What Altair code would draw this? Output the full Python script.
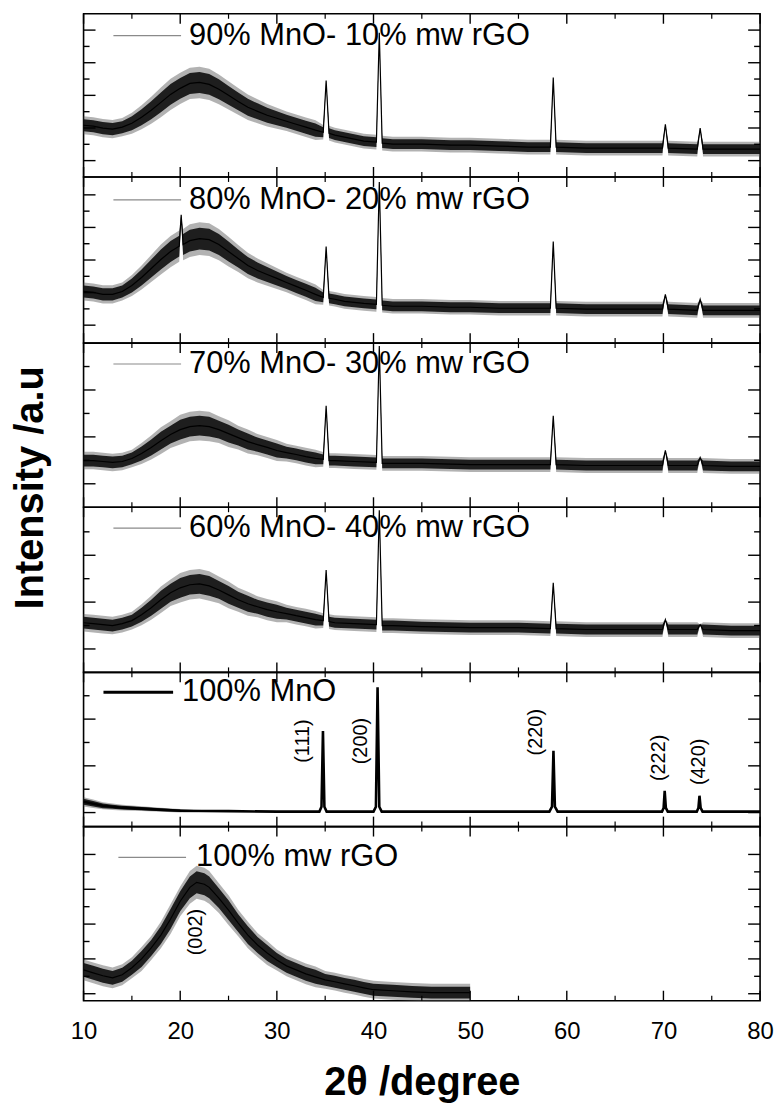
import altair as alt
import pandas as pd

FONT = "Liberation Sans"

# ---------------- data ----------------
NAMES = ["90% MnO- 10% mw rGO", "80% MnO- 20% mw rGO", "70% MnO- 30% mw rGO",
         "60% MnO- 40% mw rGO", "100% MnO", "100% mw rGO"]

X_MAJOR = [10, 20, 30, 40, 50, 60, 70, 80]
X_MINOR = [15, 25, 35, 45, 55, 65, 75]

# panel 1 : 90% MnO - 10% mw rGO
P1_TT = [10, 11, 12, 13, 14, 15, 16, 17, 18, 19, 20, 21, 22, 23, 24, 25, 26, 27, 28, 29, 30,
         31, 32, 33, 34, 34.8, 35.1, 35.4, 36, 37, 38, 39, 40.3, 40.6, 40.9, 42, 45, 48, 50,
         53, 56, 58.3, 58.6, 58.9, 62, 66, 69.9, 70.2, 70.5, 73.5, 73.8, 74.1, 77, 80]
P1_V = [3.17, 3.11, 2.99, 2.93, 3.05, 3.29, 3.66, 4.09, 4.57, 5.06, 5.43, 5.73, 5.79, 5.67,
        5.37, 5.00, 4.63, 4.27, 4.02, 3.78, 3.60, 3.41, 3.23, 3.05, 2.87, 2.74, 5.91, 2.68,
        2.56, 2.44, 2.32, 2.20, 2.13, 8.84, 2.07, 2.01, 2.01, 1.95, 1.95, 1.89, 1.83, 1.83,
        6.10, 1.83, 1.77, 1.77, 1.77, 3.23, 1.77, 1.71, 2.99, 1.71, 1.71, 1.71]
P1_HW = [0.37, 0.37, 0.37, 0.37, 0.37, 0.43, 0.49, 0.55, 0.61, 0.64, 0.64, 0.64, 0.64, 0.64,
         0.61, 0.58, 0.55, 0.52, 0.49, 0.46, 0.43, 0.40, 0.40, 0.40, 0.40, 0.30, 0.0, 0.30,
         0.30, 0.30, 0.30, 0.30, 0.30, 0.0, 0.30, 0.30, 0.30, 0.30, 0.30, 0.30, 0.30, 0.30,
         0.0, 0.30, 0.30, 0.30, 0.30, 0.0, 0.30, 0.30, 0.0, 0.30, 0.30, 0.30]

# panel 2 : 80% MnO - 20% mw rGO
P2_TT = [10, 11, 12, 13, 14, 15, 16, 17, 18, 19, 19.9, 20.1, 20.3, 21, 22, 23, 24, 25, 26,
         27, 28, 29, 30, 31, 32, 33, 34, 34.8, 35.1, 35.4, 36, 37, 38, 39, 40.3, 40.6, 40.9,
         42, 45, 48, 50, 53, 56, 58.3, 58.6, 58.9, 62, 66, 69.9, 70.2, 70.5, 73.5, 73.8,
         74.1, 77, 80]
P2_V = [3.07, 3.01, 2.89, 2.89, 3.07, 3.44, 3.93, 4.48, 5.03, 5.52, 5.85, 7.78, 5.95, 6.19,
        6.31, 6.25, 5.95, 5.52, 5.09, 4.66, 4.36, 4.11, 3.87, 3.62, 3.38, 3.14, 2.89, 2.71,
        5.82, 2.65, 2.59, 2.46, 2.40, 2.34, 2.28, 9.79, 2.22, 2.16, 2.16, 2.10, 2.10, 2.04,
        2.04, 2.04, 6.13, 2.04, 1.98, 1.98, 1.98, 2.89, 1.98, 1.91, 2.59, 1.91, 1.91, 1.91]
P2_HW = [0.37, 0.37, 0.37, 0.37, 0.37, 0.43, 0.49, 0.55, 0.61, 0.64, 0.64, 0.0, 0.64, 0.67,
         0.67, 0.67, 0.64, 0.61, 0.55, 0.52, 0.49, 0.46, 0.43, 0.40, 0.40, 0.40, 0.40, 0.30,
         0.0, 0.30, 0.30, 0.30, 0.30, 0.30, 0.30, 0.0, 0.30, 0.30, 0.30, 0.30, 0.30, 0.30,
         0.30, 0.30, 0.0, 0.30, 0.30, 0.30, 0.30, 0.0, 0.30, 0.30, 0.0, 0.30, 0.30, 0.30]

# panel 3 : 70% MnO - 30% mw rGO
P3_TT = [10, 11, 12, 13, 14, 15, 16, 17, 18, 19, 20, 21, 22, 23, 24, 25, 26, 27, 28, 29, 30,
         31, 32, 33, 34, 34.8, 35.1, 35.4, 36, 38, 40.3, 40.6, 40.9, 42, 45, 50, 55, 58.3,
         58.6, 58.9, 62, 66, 69.9, 70.2, 70.5, 73.5, 73.8, 74.1, 77, 80]
P3_V = [1.99, 1.99, 1.95, 1.91, 1.95, 2.08, 2.29, 2.55, 2.84, 3.10, 3.31, 3.44, 3.48, 3.44,
        3.31, 3.14, 2.97, 2.80, 2.67, 2.55, 2.42, 2.33, 2.25, 2.16, 2.08, 2.04, 4.33, 1.99,
        1.99, 1.95, 1.91, 6.87, 1.87, 1.87, 1.87, 1.82, 1.82, 1.82, 3.90, 1.82, 1.78, 1.78,
        1.78, 2.42, 1.78, 1.78, 2.12, 1.78, 1.74, 1.74]
P3_HW = [0.25, 0.25, 0.25, 0.25, 0.25, 0.25, 0.30, 0.34, 0.38, 0.38, 0.42, 0.42, 0.42, 0.42,
         0.38, 0.38, 0.34, 0.34, 0.30, 0.30, 0.30, 0.25, 0.25, 0.25, 0.25, 0.21, 0.0, 0.21,
         0.21, 0.21, 0.21, 0.0, 0.21, 0.21, 0.21, 0.21, 0.21, 0.21, 0.0, 0.21, 0.21, 0.21,
         0.21, 0.0, 0.21, 0.21, 0.0, 0.21, 0.21, 0.21]

# panel 4 : 60% MnO - 40% mw rGO
P4_TT = [10, 11, 12, 13, 14, 15, 16, 17, 18, 19, 20, 21, 22, 23, 24, 25, 26, 27, 28, 29, 30,
         31, 32, 33, 34, 34.8, 35.1, 35.4, 36, 38, 40.3, 40.6, 40.9, 42, 45, 50, 55, 58.3,
         58.6, 58.9, 62, 66, 69.9, 70.2, 70.5, 73.5, 73.8, 74.1, 77, 80]
P4_V = [2.12, 2.08, 2.04, 2.00, 2.08, 2.21, 2.46, 2.76, 3.10, 3.40, 3.61, 3.74, 3.78, 3.69,
        3.52, 3.31, 3.10, 2.93, 2.80, 2.68, 2.59, 2.51, 2.42, 2.34, 2.25, 2.21, 4.37, 2.17,
        2.12, 2.08, 2.04, 6.92, 2.00, 2.00, 1.95, 1.91, 1.91, 1.87, 3.82, 1.87, 1.83, 1.83,
        1.83, 2.25, 1.83, 1.83, 2.04, 1.83, 1.78, 1.78]
P4_HW = [0.25, 0.25, 0.25, 0.25, 0.25, 0.25, 0.30, 0.34, 0.38, 0.38, 0.42, 0.42, 0.42, 0.42,
         0.38, 0.38, 0.34, 0.34, 0.30, 0.30, 0.30, 0.25, 0.25, 0.25, 0.25, 0.21, 0.0, 0.21,
         0.21, 0.21, 0.21, 0.0, 0.21, 0.21, 0.21, 0.21, 0.21, 0.21, 0.0, 0.21, 0.21, 0.21,
         0.21, 0.0, 0.21, 0.21, 0.0, 0.21, 0.21, 0.21]

# panel 5 : 100% MnO
P5_TT = [10, 11, 12, 13, 14, 16, 18, 20, 25, 30, 34.4, 34.62, 34.77, 34.92, 35.15, 40.0,
         40.25, 40.42, 40.6, 40.85, 58.2, 58.47, 58.62, 58.77, 59.05, 69.85, 70.02, 70.13,
         70.25, 70.45, 73.45, 73.62, 73.73, 73.85, 74.05, 80]
P5_V = [1.46, 1.38, 1.29, 1.25, 1.21, 1.17, 1.12, 1.08, 1.06, 1.04, 1.04, 1.25, 4.49, 1.25,
        1.04, 1.04, 1.25, 6.36, 1.25, 1.04, 1.04, 1.25, 3.64, 1.25, 1.04, 1.04, 1.20, 1.93,
        1.20, 1.04, 1.04, 1.20, 1.72, 1.20, 1.04, 1.04]
P5_HW = [0.13, 0.12, 0.10, 0.09, 0.08, 0.07, 0.06, 0.05, 0.0, 0.0, 0.0, 0.0, 0.0, 0.0, 0.0,
         0.0, 0.0, 0.0, 0.0, 0.0, 0.0, 0.0, 0.0, 0.0, 0.0, 0.0, 0.0, 0.0, 0.0, 0.0, 0.0, 0.0,
         0.0, 0.0, 0.0, 0.0]
P5_LABELS = ["(111)", "(200)", "(220)", "(222)", "(420)"]
P5_LABEL_TT = [32.7, 38.7, 56.8, 69.5, 73.7]
P5_LABEL_V = [4.06, 4.06, 4.44, 3.34, 3.17]

# panel 6 : 100% mw rGO
P6_TT = [10, 11, 12, 13, 14, 15, 16, 17, 18, 19, 20, 21, 21.7, 22.5, 23, 24, 25, 26, 27, 28,
         29, 30, 31, 32, 33, 34, 35, 36, 37, 38, 39, 40, 42, 44, 46, 48, 50]
P6_V = [2.37, 2.20, 2.03, 1.91, 2.09, 2.49, 3.00, 3.63, 4.37, 5.29, 6.31, 7.11, 7.40, 7.29,
        7.11, 6.49, 5.80, 5.06, 4.37, 3.80, 3.34, 2.94, 2.60, 2.37, 2.14, 1.97, 1.80, 1.69,
        1.57, 1.46, 1.34, 1.23, 1.17, 1.11, 1.06, 1.06, 1.06]
P6_HW = [0.40, 0.40, 0.40, 0.40, 0.40, 0.40, 0.46, 0.46, 0.51, 0.57, 0.57, 0.63, 0.63, 0.63,
         0.63, 0.57, 0.57, 0.51, 0.51, 0.46, 0.46, 0.40, 0.40, 0.40, 0.40, 0.40, 0.34, 0.34,
         0.34, 0.34, 0.34, 0.34, 0.34, 0.34, 0.34, 0.34, 0.34]
P6_LABELS = ["(002)"]
P6_LABEL_TT = [21.6]
P6_LABEL_V = [4.54]

# per-panel intensity axis (arbitrary units) and its tick marks
Y_DOMAINS = [[0, 10], [-0.1, 10.1], [0, 7], [0, 7.05], [0.4, 7.0], [0.6, 10.6]]
Y_MAJOR = [[1, 3, 5, 7, 9], [1, 3, 5, 7, 9], [1, 3, 5], [1, 3, 5], [1, 3, 5], [1, 3, 5, 7, 9]]
Y_MINOR = [[2, 4, 6, 8], [2, 4, 6, 8], [2, 4, 6], [2, 4, 6], [2, 4, 6], [2, 4, 6, 8]]

# ---------------- layout ----------------
W = 680
PANEL_H = [164, 167, 165, 166, 155, 175]
XS = alt.Scale(domain=[10, 80], nice=False, zero=False)


def build(i, tt, v, hw, line_color, line_w, leg, labels=None, bottom=False, ytitle=False):
    h = PANEL_H[i]
    ys = alt.Scale(domain=Y_DOMAINS[i], nice=False, zero=False)
    if bottom:
        xax = alt.Axis(values=X_MAJOR, ticks=False, tickSize=0, domain=False, grid=False,
                       labelFont=FONT, labelFontSize=24, labelColor="black", labelPadding=19,
                       labelFlush=False, format="d",
                       title="2θ /degree", titleFont=FONT, titleFontSize=40,
                       titleFontWeight="bold", titleColor="black", titlePadding=19)
    else:
        xax = None
    if ytitle:
        yax = alt.Axis(title="Intensity /a.u", domain=False, ticks=False, labels=False,
                       grid=False, titleFont=FONT, titleFontSize=40, titleFontWeight="bold",
                       titleColor="black", titleAngle=270, titleAlign="center",
                       titleBaseline="middle", titleX=-53, titleY=145)
    else:
        yax = None

    def X(f):
        return alt.X(f, type="quantitative", scale=XS, axis=xax)

    def Y(f):
        return alt.Y(f, type="quantitative", scale=ys, axis=yax)

    df = pd.DataFrame({
        "tt": tt, "v": v,
        "lo": [a - b for a, b in zip(v, hw)],
        "hi": [a + b for a, b in zip(v, hw)],
        "lo2": [a - 1.5 * b for a, b in zip(v, hw)],
        "hi2": [a + 1.5 * b for a, b in zip(v, hw)],
    })
    fringe = alt.Chart(df).mark_area(color="#555555", opacity=0.45).encode(
        x=X("tt"), y=Y("lo2"), y2="hi2:Q")
    band = alt.Chart(df).mark_area(color="#111111", opacity=0.92).encode(
        x=X("tt"), y=Y("lo"), y2="hi:Q")
    line = alt.Chart(df).mark_line(strokeWidth=line_w, color=line_color).encode(
        x=X("tt"), y=Y("v"))
    layers = [fringe, band, line]

    # legend sample line + label
    lx0, lx1, ltx, lcy, lcol, lw = leg
    ldf = pd.DataFrame({"sample": [NAMES[i]]})
    layers.append(alt.Chart(ldf).mark_rule(color=lcol, strokeWidth=lw).encode(
        x=alt.value(lx0), x2=alt.value(lx1), y=alt.value(lcy)))
    layers.append(alt.Chart(ldf).mark_text(font=FONT, fontSize=31, color="black",
                                           align="left", baseline="middle").encode(
        x=alt.value(ltx), y=alt.value(lcy), text="sample:N"))

    for vals, ln, sw in [(X_MAJOR, 10, 1.4), (X_MINOR, 5, 1.2)]:
        tdf = pd.DataFrame({"t": vals})
        layers.append(alt.Chart(tdf).mark_rule(color="black", strokeWidth=sw).encode(
            x=X("t"), y=alt.value(h), y2=alt.value(h - ln)))
        layers.append(alt.Chart(tdf).mark_rule(color="black", strokeWidth=sw).encode(
            x=X("t"), y=alt.value(0), y2=alt.value(ln)))
    for vals, ln in [(Y_MAJOR[i], 12), (Y_MINOR[i], 6)]:
        tdf = pd.DataFrame({"t": vals})
        layers.append(alt.Chart(tdf).mark_rule(color="black", strokeWidth=1.4).encode(
            y=Y("t"), x=alt.value(0), x2=alt.value(ln)))
        layers.append(alt.Chart(tdf).mark_rule(color="black", strokeWidth=1.4).encode(
            y=Y("t"), x=alt.value(W), x2=alt.value(W - ln)))
    if labels is not None:
        pdf = pd.DataFrame({"tt": labels[1], "v": labels[2], "lab": labels[0]})
        layers.append(alt.Chart(pdf).mark_text(angle=270, font=FONT, fontSize=20,
                                               color="black", align="center",
                                               baseline="middle").encode(
            x=X("tt"), y=Y("v"), text="lab:N"))
    return alt.layer(*layers).properties(width=W, height=h)


panels = [
    build(0, P1_TT, P1_V, P1_HW, "black", 1.2, (30, 98, 106, 22, "#8a8a8a", 1.2)),
    build(1, P2_TT, P2_V, P2_HW, "black", 1.2, (30, 98, 106, 23, "#8a8a8a", 1.2)),
    build(2, P3_TT, P3_V, P3_HW, "black", 1.2, (30, 98, 106, 21, "#8a8a8a", 1.2),
          ytitle=True),
    build(3, P4_TT, P4_V, P4_HW, "black", 1.2, (30, 98, 106, 21, "#8a8a8a", 1.2)),
    build(4, P5_TT, P5_V, P5_HW, "black", 2.6, (20, 90, 99, 20, "black", 3),
          labels=(P5_LABELS, P5_LABEL_TT, P5_LABEL_V)),
    build(5, P6_TT, P6_V, P6_HW, "black", 1.2, (35, 103, 113, 31, "#8a8a8a", 1.2),
          labels=(P6_LABELS, P6_LABEL_TT, P6_LABEL_V), bottom=True),
]

chart = alt.vconcat(*panels, spacing=0, bounds="flush").resolve_scale(
    y="independent"
).properties(
    padding={"left": 10, "top": 9, "right": 0, "bottom": 0},
).configure_view(stroke="black", strokeWidth=1.6)

chart.save("out.html", embed_options={"renderer": "svg", "actions": False})
